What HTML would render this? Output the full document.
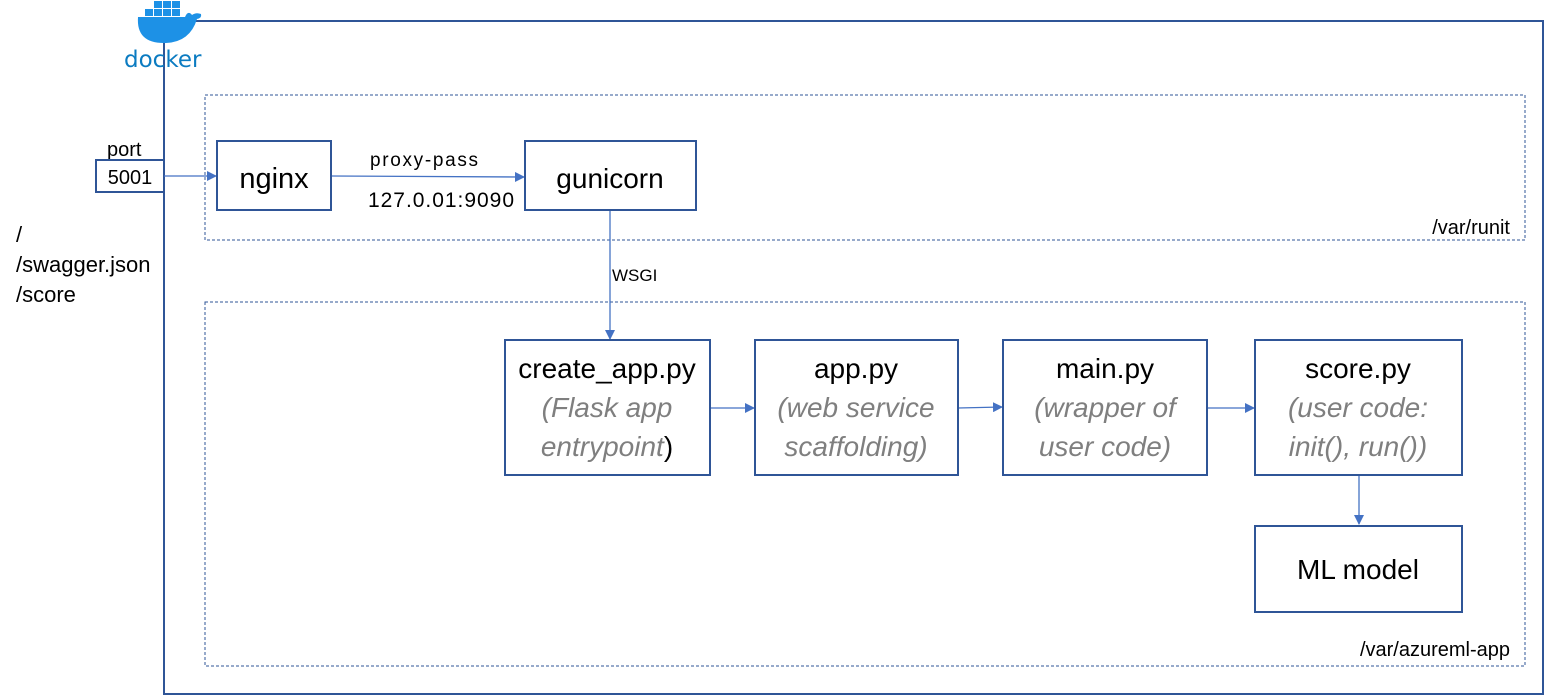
<!DOCTYPE html>
<html><head><meta charset="utf-8"><style>
html,body{margin:0;padding:0;background:#fff;}
svg{display:block;font-family:"Liberation Sans",sans-serif;}
.t{font-family:"Liberation Sans",sans-serif;fill:#000;}
.g{fill:#7f7f7f;font-style:italic;}
</style></head><body>
<svg width="1546" height="697" viewBox="0 0 1546 697" xmlns="http://www.w3.org/2000/svg">
<defs>
<marker id="a" markerWidth="10" markerHeight="10" refX="9" refY="5" orient="auto" markerUnits="userSpaceOnUse">
<path d="M0,0 L10,5 L0,10 z" fill="#4472c4"/></marker>
</defs>
<rect x="164" y="21" width="1379" height="673" fill="none" stroke="#2f5597" stroke-width="2"/>
<!-- docker logo -->
<g fill="#1d91e6">
<path d="M138,17 Q136,44 166,43 Q190,42 197,19 Q202,18 201,14 Q196,12 192,15 Q188,10 185,17 Z"/>
<rect x="145" y="9" width="8" height="7"/><rect x="154" y="9" width="8" height="7"/><rect x="163" y="9" width="8" height="7"/><rect x="172" y="9" width="8" height="7"/>
<rect x="154" y="1" width="8" height="7"/><rect x="163" y="1" width="8" height="7"/><rect x="172" y="1" width="8" height="7"/>
</g>
<text x="124" y="67" font-size="23" fill="#0b7bc1" font-family="DejaVu Sans, sans-serif">docker</text>
<rect x="205" y="95" width="1320" height="145" fill="none" stroke="#2f5597" stroke-width="1" stroke-dasharray="3,2"/>
<rect x="205" y="302" width="1320" height="364" fill="none" stroke="#2f5597" stroke-width="1" stroke-dasharray="3,2"/>
<text class="t" x="1510" y="234" font-size="20" text-anchor="end">/var/runit</text>
<text class="t" x="1510" y="656" font-size="20" text-anchor="end">/var/azureml-app</text>
<text class="t" x="107" y="156" font-size="20">port</text>
<rect x="96" y="160" width="68" height="32" fill="none" stroke="#2f5597" stroke-width="2"/>
<text class="t" x="130" y="184" font-size="20" text-anchor="middle">5001</text>
<text class="t" x="16" y="242" font-size="22">/</text>
<text class="t" x="16" y="272" font-size="22">/swagger.json</text>
<text class="t" x="16" y="302" font-size="22">/score</text>
<g stroke="#4472c4" stroke-width="1.3" fill="none">
<line x1="164" y1="176" x2="216" y2="176" marker-end="url(#a)"/>
<line x1="331" y1="176" x2="524" y2="177" marker-end="url(#a)"/>
<line x1="610" y1="211" x2="610" y2="339" marker-end="url(#a)"/>
<line x1="710" y1="408" x2="754" y2="408" marker-end="url(#a)"/>
<line x1="958" y1="408" x2="1002" y2="407" marker-end="url(#a)"/>
<line x1="1207" y1="408" x2="1254" y2="408" marker-end="url(#a)"/>
<line x1="1359" y1="475" x2="1359" y2="524" marker-end="url(#a)"/>
</g>
<text class="t" x="370" y="166" font-size="19" textLength="108">proxy-pass</text>
<text class="t" x="368" y="207" font-size="21" textLength="146">127.0.01:9090</text>
<text class="t" x="612" y="281" font-size="17">WSGI</text>
<g fill="#fff" stroke="#2f5597" stroke-width="2">
<rect x="217" y="141" width="114" height="69"/>
<rect x="525" y="141" width="171" height="69"/>
<rect x="505" y="340" width="205" height="135"/>
<rect x="755" y="340" width="203" height="135"/>
<rect x="1003" y="340" width="204" height="135"/>
<rect x="1255" y="340" width="207" height="135"/>
<rect x="1255" y="526" width="207" height="86"/>
</g>
<text class="t" x="274" y="188" font-size="29" text-anchor="middle">nginx</text>
<text class="t" x="610" y="188" font-size="28" text-anchor="middle">gunicorn</text>
<g font-size="28" text-anchor="middle">
<text class="t" x="607" y="378">create_app.py</text>
<text class="g" x="607" y="417">(Flask app</text>
<text x="607" y="456"><tspan class="g">entrypoint</tspan><tspan fill="#000">)</tspan></text>
<text class="t" x="856" y="378">app.py</text>
<text class="g" x="856" y="417">(web service</text>
<text class="g" x="856" y="456">scaffolding)</text>
<text class="t" x="1105" y="378">main.py</text>
<text class="g" x="1105" y="417">(wrapper of</text>
<text class="g" x="1105" y="456">user code)</text>
<text class="t" x="1358" y="378">score.py</text>
<text class="g" x="1358" y="417">(user code:</text>
<text class="g" x="1358" y="456">init(), run())</text>
<text class="t" x="1358" y="579">ML model</text>
</g>
</svg>
</body></html>
